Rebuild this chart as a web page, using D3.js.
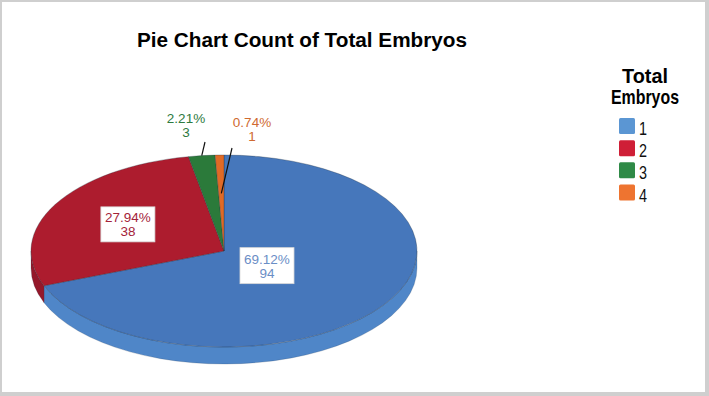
<!DOCTYPE html>
<html>
<head>
<meta charset="utf-8">
<script src="https://cdn.jsdelivr.net/npm/d3@7"></script>
<style>
  body { margin: 0; background: #fff; }
  text { font-family: "Liberation Sans", Arial, sans-serif; }
</style>
</head>
<body>
<script>
// data
const categories = ["1", "2", "3", "4"];
const counts = [94, 38, 3, 1];
const topColors = ["#4677bb", "#ad1c2e", "#2b7a3a", "#e06a26"];
const sideColors = ["#4f86c8", "#94182a", "#24692f", "#c45a1e"];
const legendColors = ["#5b96d3", "#cf1f37", "#2f8a47", "#ee7430"];
const textColors = ["#6a8ec6", "#a4233a", "#2e7a40", "#cf6a30"];

const W = 709, H = 396;
const total = d3.sum(counts);
const fmt = d3.format(".2f");

const svg = d3.select("body").append("svg")
    .attr("width", W)
    .attr("height", H);

// frame
svg.append("rect").attr("width", W).attr("height", H).attr("fill", "#cfcfcf");
svg.append("rect").attr("x", 2).attr("y", 2).attr("width", 703).attr("height", 390).attr("fill", "#fff");

// title
svg.append("text")
    .attr("x", 302).attr("y", 47)
    .attr("text-anchor", "middle")
    .attr("font-size", 20).attr("font-weight", "bold")
    .attr("textLength", 330).attr("lengthAdjust", "spacingAndGlyphs")
    .text("Pie Chart Count of Total Embryos");

// pie geometry
const cx = 224, cy = 251, rx = 193, ry = 96, depth = 17;
const pie = d3.pie().sort(null).value(d => d)(counts);

function pt(a, r) {
    return [cx + rx * r * Math.sin(a), cy - ry * r * Math.cos(a)];
}

const g = svg.append("g");

// side walls (front half only)
pie.forEach((p, i) => {
    const s = Math.max(p.startAngle, Math.PI / 2);
    const e = Math.min(p.endAngle, 3 * Math.PI / 2);
    if (s >= e) return;
    const p0 = pt(s, 1), p1 = pt(e, 1);
    const d = `M${p0}A${rx},${ry} 0 0 1 ${p1}L${p1[0]},${p1[1] + depth}` +
        `A${rx},${ry} 0 0 0 ${p0[0]},${p0[1] + depth}Z`;
    g.append("path").attr("d", d)
        .attr("fill", sideColors[i])
        .attr("stroke", "#2a3a55").attr("stroke-width", 0.4).attr("stroke-opacity", 0.5);
});

// top faces
pie.forEach((p, i) => {
    const p0 = pt(p.startAngle, 1), p1 = pt(p.endAngle, 1);
    const large = p.endAngle - p.startAngle > Math.PI ? 1 : 0;
    const d = `M${cx},${cy}L${p0}A${rx},${ry} 0 ${large} 1 ${p1}Z`;
    g.append("path").attr("d", d)
        .attr("fill", topColors[i])
        .attr("stroke", "#1e2a3a").attr("stroke-width", 0.5).attr("stroke-opacity", 0.6);
});

// labels: boxed inside for big slices, leader lines for small ones
const labelLayout = [
    { inside: true, r: 0.27, w: 54, h: 36 },
    { inside: true, r: 0.57, w: 54, h: 35 },
    { inside: false, from: 1.0, to: [205, 142], text: [186, 123] },
    { inside: false, from: 0.6, to: [232, 148], text: [252, 127] }
];

pie.forEach((p, i) => {
    const L = labelLayout[i];
    const mid = (p.startAngle + p.endAngle) / 2;
    const lines = [fmt(counts[i] / total * 100) + "%", String(counts[i])];
    let tx, ty;
    if (L.inside) {
        const c = pt(mid, L.r);
        svg.append("rect")
            .attr("x", c[0] - L.w / 2).attr("y", c[1] - L.h / 2)
            .attr("width", L.w).attr("height", L.h)
            .attr("fill", "#fff").attr("stroke", "#d8d8d8").attr("stroke-width", 0.8);
        tx = c[0]; ty = c[1] - 3;
    } else {
        const a = pt(mid, L.from);
        svg.append("line")
            .attr("x1", a[0]).attr("y1", a[1])
            .attr("x2", L.to[0]).attr("y2", L.to[1])
            .attr("stroke", "#111").attr("stroke-width", 1.2);
        tx = L.text[0]; ty = L.text[1] - 1;
    }
    lines.forEach((s, k) => {
        svg.append("text")
            .attr("x", tx).attr("y", ty + k * 14 + 1)
            .attr("text-anchor", "middle")
            .attr("font-size", 13.5)
            .attr("fill", textColors[i])
            .text(s);
    });
});

// legend
const lg = svg.append("g");
lg.append("text").attr("x", 645).attr("y", 83)
    .attr("text-anchor", "middle").attr("font-size", 21).attr("font-weight", "bold")
    .attr("textLength", 46).attr("lengthAdjust", "spacingAndGlyphs")
    .text("Total");
lg.append("text").attr("x", 645).attr("y", 104)
    .attr("text-anchor", "middle").attr("font-size", 21).attr("font-weight", "bold")
    .attr("textLength", 68).attr("lengthAdjust", "spacingAndGlyphs")
    .text("Embryos");

const ly = d3.scalePoint().domain(categories).range([126, 192.5]);
categories.forEach((c, i) => {
    lg.append("rect")
        .attr("x", 619).attr("y", ly(c) - 8)
        .attr("width", 16).attr("height", 16).attr("rx", 1.5)
        .attr("fill", legendColors[i]);
    lg.append("text")
        .attr("x", 639).attr("y", ly(c) + 9)
        .attr("font-size", 18)
        .attr("textLength", 8).attr("lengthAdjust", "spacingAndGlyphs")
        .attr("fill", "#111")
        .text(c);
});
</script>
</body>
</html>
